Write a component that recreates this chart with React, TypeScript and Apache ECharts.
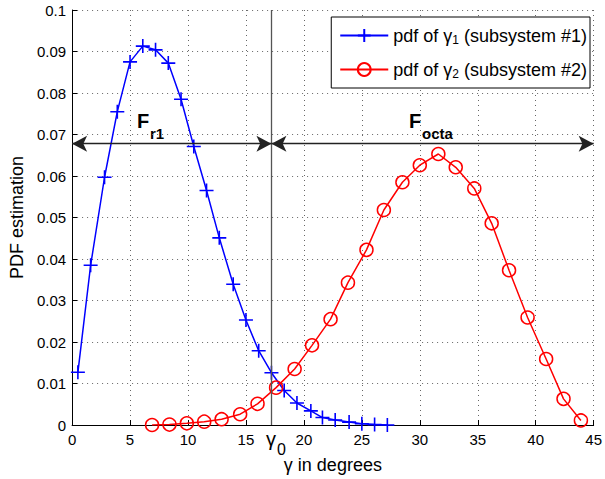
import React, { useEffect, useRef } from "react";
import * as echarts from "echarts";

const xTicks = [0, 5, 10, 15, 20, 25, 30, 35, 40, 45];
const g1X = [0.5, 1.6, 2.8, 3.9, 5.0, 6.1, 7.2, 8.3, 9.4, 10.5, 11.6, 12.7, 13.9, 15.0, 16.1, 17.2, 18.3, 19.4, 20.6, 21.6, 22.7, 23.9, 25.0, 26.1, 27.2];
const g1Y = [0.0127, 0.0385, 0.0597, 0.0755, 0.0875, 0.0913, 0.0904, 0.0872, 0.0785, 0.0671, 0.0565, 0.0451, 0.0339, 0.0253, 0.0179, 0.0126, 0.0083, 0.0053, 0.0034, 0.0018, 0.0012, 0.0007, 0.0003, 0.0001, 0.0];
const g2X = [6.9, 8.4, 9.9, 11.4, 12.9, 14.5, 16.0, 17.6, 19.2, 20.7, 22.3, 23.8, 25.4, 26.9, 28.5, 30.0, 31.6, 33.1, 34.7, 36.2, 37.7, 39.3, 40.9, 42.4, 43.9];
const g2Y = [0.0, 0.0001, 0.0004, 0.0008, 0.0014, 0.0026, 0.0051, 0.009, 0.0135, 0.0192, 0.0255, 0.0343, 0.0422, 0.0518, 0.0585, 0.0626, 0.0653, 0.0621, 0.057, 0.0486, 0.0373, 0.0259, 0.0159, 0.0063, 0.0011];
const gamma0 = 17.2;
const arrowY = 0.0678;
const seriesNames = ["pdf of γ1 (subsystem #1)", "pdf of γ2 (subsystem #2)"];
const legendRich = ["{t|pdf of γ}{s|1}{t| (subsystem #1)}", "{t|pdf of γ}{s|2}{t| (subsystem #2)}"];

const FONT = "'Liberation Sans', Arial, Helvetica, sans-serif";

export default function App() {
  const ref = useRef<HTMLDivElement>(null);
  useEffect(() => {
    if (!ref.current) return;
    const chart = echarts.init(ref.current, null, { renderer: "svg" });
    const grid = { left: 67, right: 6, top: 10, bottom: 53 };
    const splitStyle = { color: "#666", width: 1, type: [1, 4] as any };
    chart.setOption({
      animation: false,
      textStyle: { fontFamily: FONT },
      grid,
      legend: {
        orient: "vertical",
        right: 15,
        top: 17,
        padding: [8, 3, 8, 8],
        itemGap: 13,
        itemWidth: 48,
        itemHeight: 16,
        backgroundColor: "#fff",
        borderColor: "#000",
        borderWidth: 1,
        borderRadius: 0,
        data: seriesNames,
        formatter: (name: string) => legendRich[seriesNames.indexOf(name)],
        textStyle: {
          fontFamily: FONT,
          color: "#000",
          rich: {
            t: { fontSize: 18, fontFamily: FONT, color: "#000", lineHeight: 20 },
            s: { fontSize: 12, fontFamily: FONT, color: "#000", lineHeight: 20, padding: [9, 0, 0, 0] },
          },
        },
      },
      xAxis: {
        type: "value",
        min: xTicks[0],
        max: xTicks[xTicks.length - 1],
        interval: 5,
        name: "γ in degrees",
        nameLocation: "middle",
        nameGap: 31,
        nameTextStyle: { fontSize: 18, color: "#000", fontFamily: FONT },
        axisLine: { lineStyle: { color: "#000", width: 1 } },
        axisTick: { inside: true, length: 5, lineStyle: { color: "#000" } },
        axisLabel: { fontSize: 15, color: "#000", margin: 7, fontFamily: FONT },
        splitLine: { show: true, lineStyle: splitStyle },
      },
      yAxis: {
        type: "value",
        min: 0,
        max: 0.1,
        interval: 0.01,
        name: "PDF estimation",
        nameLocation: "middle",
        nameGap: 43,
        nameTextStyle: { fontSize: 18, color: "#000", fontFamily: FONT },
        axisLine: { show: true, lineStyle: { color: "#000", width: 1 } },
        axisTick: { show: true, inside: true, length: 5, lineStyle: { color: "#000" } },
        axisLabel: { fontSize: 15, color: "#000", margin: 6, fontFamily: FONT },
        splitLine: { show: true, lineStyle: splitStyle },
      },
      series: [
        {
          name: seriesNames[0],
          type: "line",
          data: g1X.map((x, i) => [x, g1Y[i]]),
          symbol: "path://M6,0L6,12M0,6L12,6",
          symbolSize: 14,
          showAllSymbol: true,
          lineStyle: { color: "#0000ff", width: 1.5 },
          itemStyle: { color: "transparent", borderColor: "#0000ff", borderWidth: 1.6 },
          z: 3,
          markLine: {
            silent: true,
            animation: false,
            label: { show: false },
            data: [
              [
                { coord: [gamma0, 0], symbol: "none" },
                { coord: [gamma0, 0.1], symbol: "none" },
              ],
              [
                { coord: [0, arrowY], symbol: "arrow" },
                { coord: [gamma0, arrowY], symbol: "arrow" },
              ],
              [
                { coord: [gamma0, arrowY], symbol: "arrow" },
                { coord: [45, arrowY], symbol: "arrow" },
              ],
            ].map((d, i) => {
              const style = i === 0 ? { color: "#555", width: 1.3, type: "solid" } : { color: "#222", width: 1.3, type: "solid" };
              return [
                { ...d[0], lineStyle: style, symbolSize: [12, 15] },
                { ...d[1], lineStyle: style, symbolSize: [12, 15] },
              ];
            }),
          },
        },
        {
          name: seriesNames[1],
          type: "line",
          data: g2X.map((x, i) => [x, g2Y[i]]),
          symbol: "circle",
          symbolSize: 13,
          showAllSymbol: true,
          lineStyle: { color: "#ff0000", width: 1.5 },
          itemStyle: { color: "transparent", borderColor: "#ff0000", borderWidth: 1.5 },
          z: 3,
        },
      ],
      graphic: [
        { type: "text", left: 266, top: 429, style: { text: "γ", fontSize: 20, fontFamily: FONT, fill: "#000" } },
        { type: "text", left: 277, top: 441, style: { text: "0", fontSize: 16, fontFamily: FONT, fill: "#000" } },
        { type: "text", left: 137, top: 111, style: { text: "F", fontSize: 20, fontWeight: "bold", fontFamily: FONT, fill: "#000" } },
        { type: "text", left: 150, top: 126, style: { text: "r1", fontSize: 15, fontWeight: "bold", fontFamily: FONT, fill: "#000" } },
        { type: "text", left: 409, top: 111, style: { text: "F", fontSize: 20, fontWeight: "bold", fontFamily: FONT, fill: "#000" } },
        { type: "text", left: 422, top: 126, style: { text: "octa", fontSize: 15, fontWeight: "bold", fontFamily: FONT, fill: "#000" } },
      ],
    });
    return () => chart.dispose();
  }, []);
  return <div ref={ref} style={{ width: 605, height: 479, position: "absolute", left: 0, top: 0 }} />;
}
